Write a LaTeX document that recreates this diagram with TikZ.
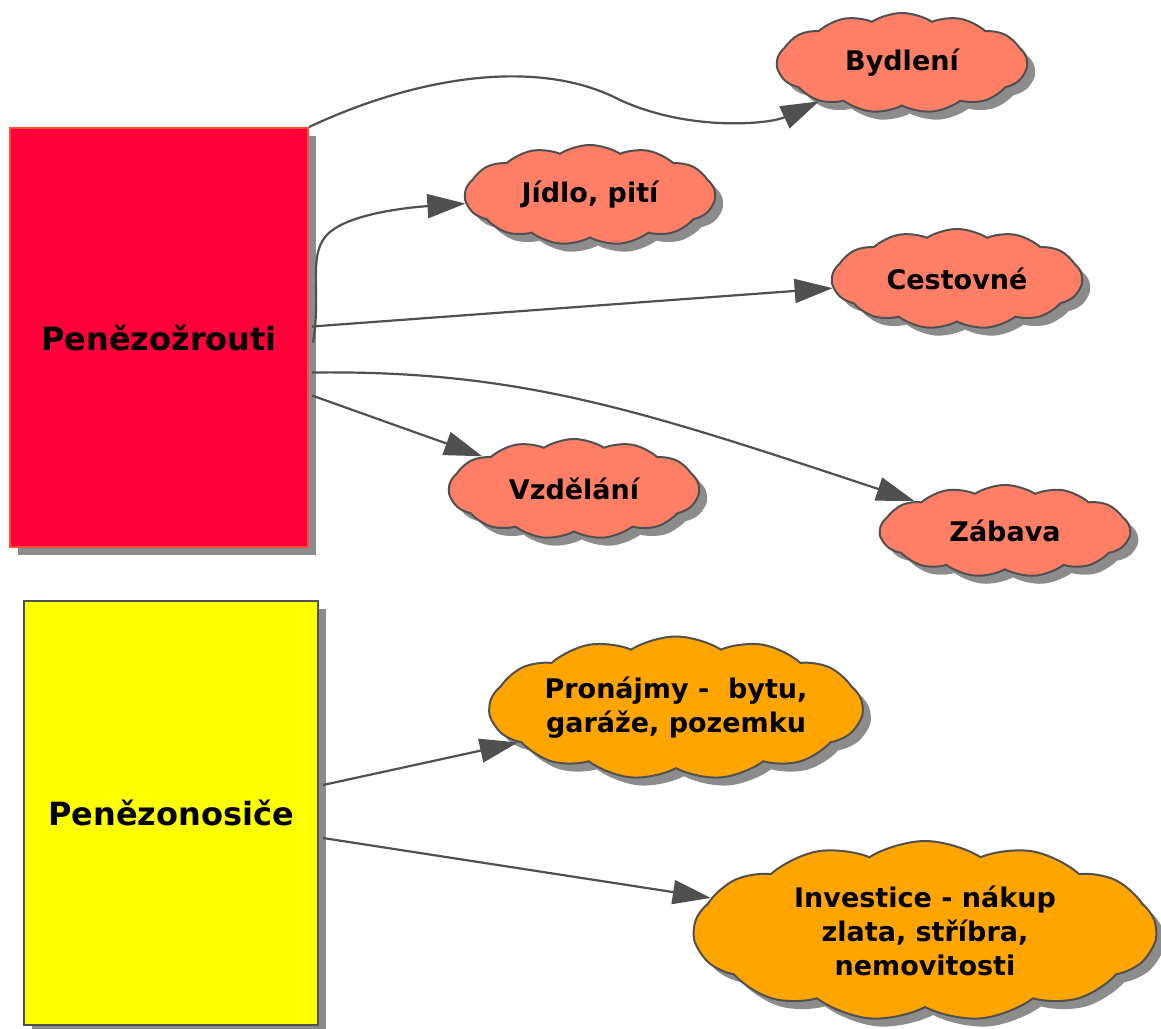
\documentclass[tikz,border=0pt]{standalone}
\usepackage{fontspec}
\setmainfont{DejaVu Sans}
\usetikzlibrary{arrows.meta,shapes.symbols,shadows,calc}
\definecolor{edgegray}{HTML}{505050}
\definecolor{zroutired}{HTML}{FF003A}
\definecolor{zroutiline}{HTML}{FF4D33}
\definecolor{salmon}{HTML}{FF7F66}
\definecolor{nosicorange}{HTML}{FFA500}
\definecolor{nosicyellow}{HTML}{FFFF00}
\begin{document}
\begin{tikzpicture}[x=1pt,y=-1pt,
    shade/.style={drop shadow={shadow xshift=8pt,shadow yshift=-8pt,opacity=0.45,fill=black}},
    pot/.style={rectangle, shade, line width=2pt, inner sep=0pt, font=\fontsize{32}{38}\selectfont\bfseries},
    puff/.style={cloud, cloud puffs=13, cloud puff arc=65, cloud ignores aspect, draw=edgegray, line width=2pt,
      shade, inner sep=0pt, align=center, font=\fontsize{27}{34}\selectfont\bfseries},
    link/.style={draw=edgegray, line width=2.2pt, -{Triangle[length=38pt,width=24pt]}}]
  \useasboundingbox (0,0) rectangle (1161,1028);

  % boxes
  \node[pot, fill=zroutired, draw=zroutiline, minimum width=298pt, minimum height=419pt] (zrouti) at (159,337.5) {Penězožrouti};
  \node[pot, fill=nosicyellow, draw=edgegray, minimum width=294pt, minimum height=424pt] (nosice) at (171,813) {Penězonosiče};

  % clouds
  \node[puff, fill=salmon, minimum width=250pt, minimum height=100pt] (bydleni) at (902,63) {Bydlení};
  \node[puff, fill=salmon, minimum width=250pt, minimum height=100pt] (jidlo) at (590,195) {Jídlo, pití};
  \node[puff, fill=salmon, minimum width=250pt, minimum height=100pt] (cestovne) at (957,279) {Cestovné};
  \node[puff, fill=salmon, minimum width=250pt, minimum height=100pt] (vzdelani) at (574,489) {Vzdělání};
  \node[puff, fill=salmon, minimum width=250pt, minimum height=92pt] (zabava) at (1005,531) {Zábava};
  \node[puff, fill=nosicorange, minimum width=373pt, minimum height=143pt] (pronajmy) at (676,708) {Pronájmy -\ \ bytu,\\garáže, pozemku};
  \node[puff, fill=nosicorange, minimum width=462pt, minimum height=180pt] (investice) at (925,931) {Investice - nákup\\zlata, stříbra,\\nemovitosti};

  % links
  \draw[link] (zrouti.north east) .. controls (420,75) and (540,58) .. (620,100) .. controls (690,132) and (770,124) .. (bydleni);
  \draw[link] ($(zrouti.east)+(4,5)$) .. controls (322,290) and (306,252) .. (330,232) .. controls (350,215) and (400,208) .. (jidlo);
  \draw[link] ($(zrouti.east)+(3,-11)$) -- (cestovne);
  \draw[link] ($(zrouti.east)+(3,35)$) .. controls (520,370) and (640,410) .. (zabava);
  \draw[link] ($(zrouti.east)+(3,58)$) -- (vzdelani);
  \draw[link] ($(nosice.east)+(4,-28)$) -- (pronajmy);
  \draw[link] ($(nosice.east)+(4,25)$) -- (investice);
\end{tikzpicture}
\end{document}
